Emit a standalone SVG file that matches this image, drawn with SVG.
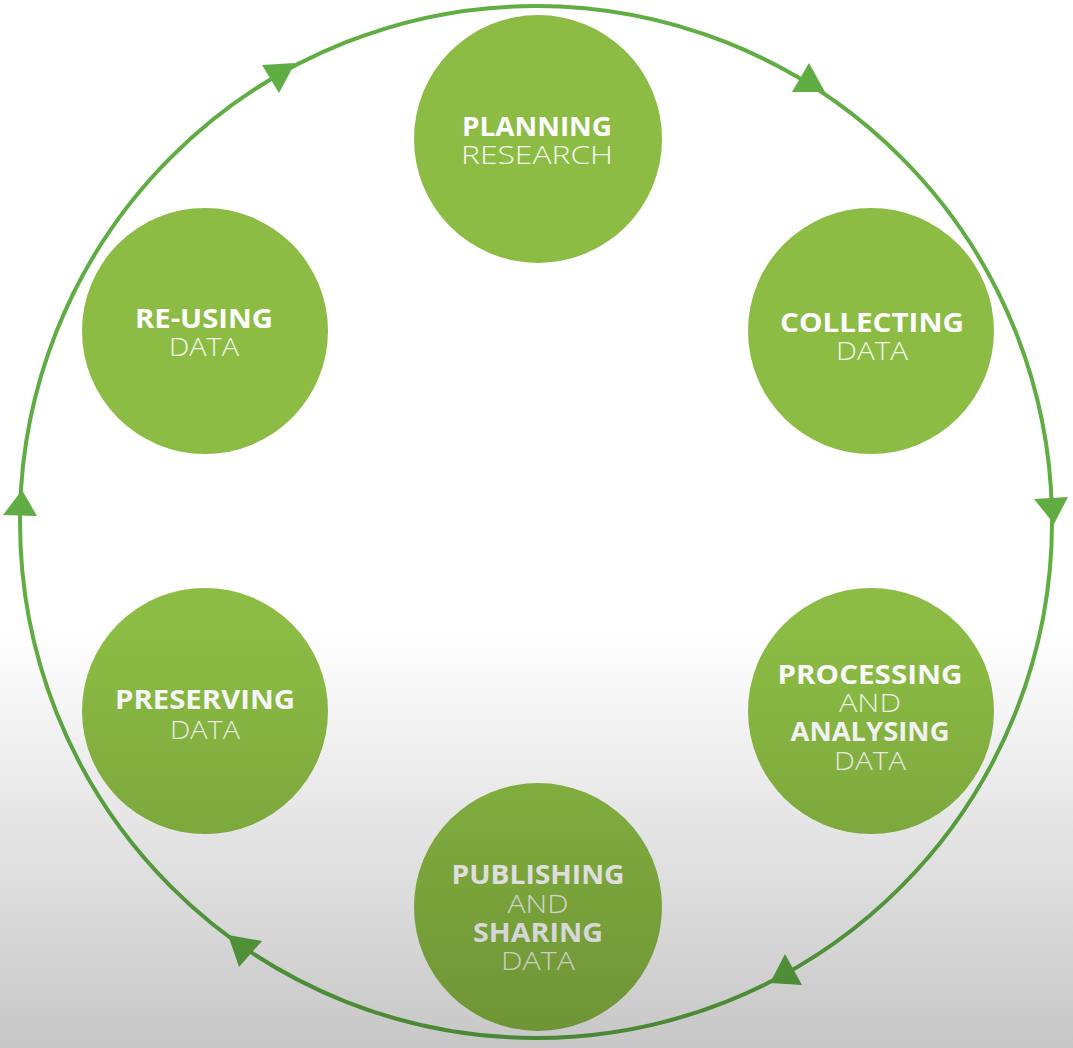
<svg xmlns="http://www.w3.org/2000/svg" width="1073" height="1048" viewBox="0 0 1073 1048">
<defs>
<linearGradient id="shade" gradientUnits="userSpaceOnUse" x1="0" y1="630" x2="0" y2="1048">
<stop offset="0" stop-color="#000" stop-opacity="0"/>
<stop offset="1" stop-color="#000" stop-opacity="0.22"/>
</linearGradient>
<style>
.node{fill:#8cbc44}
.b{font-family:"Open Sans","Liberation Sans",sans-serif;font-weight:700;font-size:26px;fill:#fff;text-anchor:middle}
.l{font-family:"Open Sans","Liberation Sans",sans-serif;font-weight:300;font-size:26px;fill:#f4f8ee;text-anchor:middle}
.ring{fill:none;stroke:#5fad43;stroke-width:4}
.arrow{fill:#5fad43}
</style>
</defs>
<rect width="1073" height="1048" fill="#fff"/>
<g id="connectors">
<circle class="ring" cx="536" cy="522" r="516"/>
<polygon class="arrow" points="262,65 295,63 279,93"/>
<polygon class="arrow" points="792,92 809,63 825,92"/>
<polygon class="arrow" points="1034,499 1068,497 1054,524"/>
<polygon class="arrow" points="770,983 785,954 802,985"/>
<polygon class="arrow" points="228,935 262,941 239,967"/>
<polygon class="arrow" points="22,490 3,515 37,516"/>
</g>
<g id="planning">
<circle class="node" cx="538" cy="139" r="124"/>
<text class="b" x="537" y="136" textLength="150" lengthAdjust="spacingAndGlyphs">PLANNING</text>
<text class="l" x="537" y="164" textLength="152" lengthAdjust="spacingAndGlyphs">RESEARCH</text>
</g>
<g id="collecting">
<circle class="node" cx="871" cy="331" r="123"/>
<text class="b" x="872" y="332" textLength="184" lengthAdjust="spacingAndGlyphs">COLLECTING</text>
<text class="l" x="872" y="360" textLength="72" lengthAdjust="spacingAndGlyphs">DATA</text>
</g>
<g id="processing">
<circle class="node" cx="871" cy="711" r="123"/>
<text class="b" x="870" y="684" textLength="185" lengthAdjust="spacingAndGlyphs">PROCESSING</text>
<text class="l" x="870" y="712" textLength="62" lengthAdjust="spacingAndGlyphs">AND</text>
<text class="b" x="870" y="741" textLength="159" lengthAdjust="spacingAndGlyphs">ANALYSING</text>
<text class="l" x="870" y="770" textLength="72" lengthAdjust="spacingAndGlyphs">DATA</text>
</g>
<g id="publishing">
<circle class="node" cx="538" cy="907" r="124"/>
<text class="b" x="538" y="884" textLength="173" lengthAdjust="spacingAndGlyphs">PUBLISHING</text>
<text class="l" x="538" y="913" textLength="61" lengthAdjust="spacingAndGlyphs">AND</text>
<text class="b" x="538" y="942" textLength="130" lengthAdjust="spacingAndGlyphs">SHARING</text>
<text class="l" x="538" y="970" textLength="74" lengthAdjust="spacingAndGlyphs">DATA</text>
</g>
<g id="preserving">
<circle class="node" cx="205" cy="711" r="123"/>
<text class="b" x="205" y="709" textLength="180" lengthAdjust="spacingAndGlyphs">PRESERVING</text>
<text class="l" x="205" y="739" textLength="70" lengthAdjust="spacingAndGlyphs">DATA</text>
</g>
<g id="reusing">
<circle class="node" cx="205" cy="331" r="123"/>
<text class="b" x="204" y="328" textLength="138" lengthAdjust="spacingAndGlyphs">RE-USING</text>
<text class="l" x="204" y="356" textLength="70" lengthAdjust="spacingAndGlyphs">DATA</text>
</g>
<rect width="1073" height="1048" fill="url(#shade)" pointer-events="none"/>
</svg>
